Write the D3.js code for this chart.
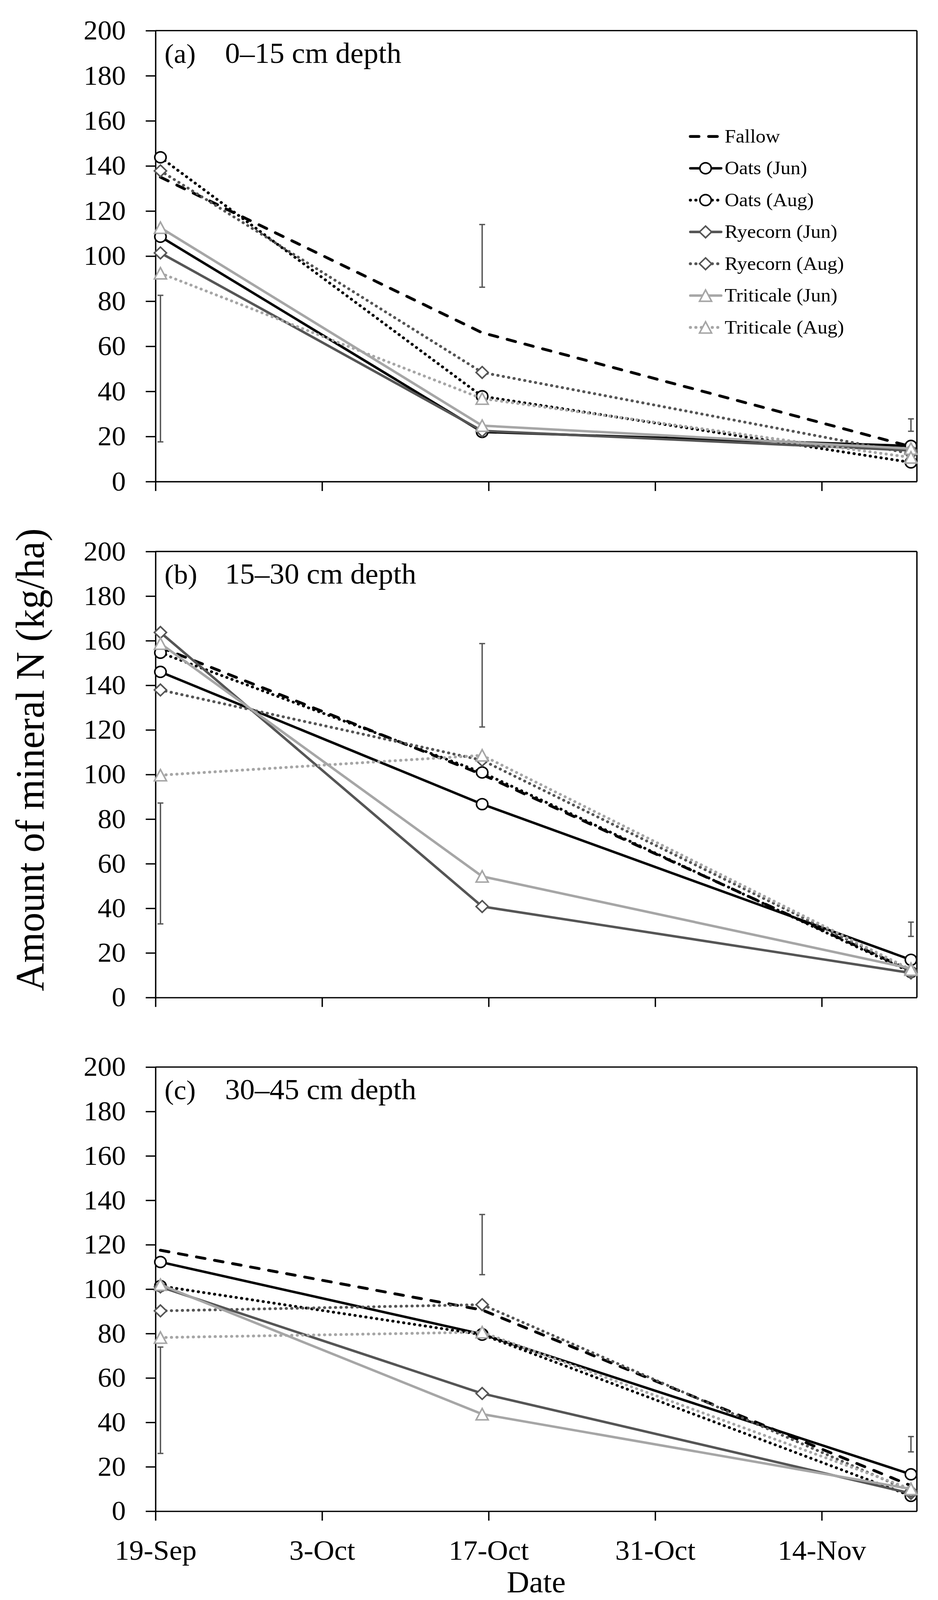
<!DOCTYPE html>
<html>
<head>
<meta charset="utf-8">
<script src="https://cdn.jsdelivr.net/npm/d3@7"></script>
<style>
  html, body { margin: 0; padding: 0; background: #fff; overflow: hidden; }
  svg { display: block; }
  text { font-family: "Liberation Serif", "Times New Roman", serif; fill: #000; }
</style>
</head>
<body>
<div id="chart"></div>
<script>
// sampling dates (UTC) and axis ticks
const sampleDates = [Date.UTC(2019, 8, 19, 10), Date.UTC(2019, 9, 16, 11), Date.UTC(2019, 10, 21, 12)];
const tickDates = [Date.UTC(2019, 8, 19), Date.UTC(2019, 9, 3), Date.UTC(2019, 9, 17), Date.UTC(2019, 9, 31), Date.UTC(2019, 10, 14)];
const yTicks = [0, 20, 40, 60, 80, 100, 120, 140, 160, 180, 200];

const seriesNames = ["Fallow", "Oats (Jun)", "Oats (Aug)", "Ryecorn (Jun)", "Ryecorn (Aug)", "Triticale (Jun)", "Triticale (Aug)"];
const panelLabels = ["(a)", "(b)", "(c)"];
const depthLabels = ["0\u201315 cm depth", "15\u201330 cm depth", "30\u201345 cm depth"];

// mineral N (kg/ha), one row per series, one value per sampling date
const valuesA = [
  [135, 66, 15.5],
  [108.6, 22, 15.8],
  [143.8, 37.8, 8.5],
  [101.4, 22.5, 13.8],
  [137.8, 48.4, 12.4],
  [112.6, 24.8, 14.6],
  [92.4, 36.8, 10.7]
];
const valuesB = [
  [157, 100, 12],
  [146, 86.7, 16.9],
  [154.6, 100.9, 11.4],
  [163.7, 40.8, 11],
  [137.9, 106.4, 12],
  [158.7, 54.3, 13],
  [99.7, 108.6, 12.5]
];
const valuesC = [
  [117.5, 90.6, 11.5],
  [112.2, 79.7, 16.6],
  [101.4, 79.5, 6.9],
  [101, 53, 8],
  [90.2, 93, 9],
  [102, 43.7, 10],
  [78.2, 80.6, 10]
];
// error bars [low, high] per sampling date
const errA = [[17.6, 82.6], [86.2, 114], [22.3, 27.8]];
const errB = [[33, 87.2], [121.3, 158.7], [27.4, 33.8]];
const errC = [[26, 73.9], [106.5, 133.6], [26.7, 33.6]];

// styles
const dark = "#555555", light = "#a6a6a6";
const dots = "0.5,13.5";
const seriesStyle = [
  {color: "#000", dash: "22,25", width: 7.5, marker: null},
  {color: "#000", dash: null, width: 6.5, marker: "circle"},
  {color: "#000", dash: dots, width: 7.5, marker: "circle"},
  {color: dark, dash: null, width: 6.5, marker: "diamond"},
  {color: dark, dash: dots, width: 7.5, marker: "diamond"},
  {color: light, dash: null, width: 6.5, marker: "triangle"},
  {color: light, dash: dots, width: 7.5, marker: "triangle"}
];

const W = 2401, H = 4233;
const left = 398, right = 2347;
const panels = [
  {top: 81, bottom: 1274, values: valuesA, err: errA},
  {top: 1459, bottom: 2639, values: valuesB, err: errB},
  {top: 2823, bottom: 3998, values: valuesC, err: errC}
];

const svg = d3.select("#chart").append("svg")
  .attr("viewBox", `0 0 ${W} ${H}`)
  .attr("preserveAspectRatio", "none")
  .style("width", "100vw")
  .style("height", "100vh");
svg.append("rect").attr("width", W).attr("height", H).attr("fill", "#fff");

const x = d3.scaleUtc()
  .domain([Date.UTC(2019, 8, 19), Date.UTC(2019, 10, 22)])
  .range([left, right]);

function drawMarker(g, type, style) {
  if (type === "circle") {
    g.append("circle").attr("r", 14.5)
      .attr("fill", "#fff").attr("stroke", style.color).attr("stroke-width", 4);
  } else if (type === "diamond") {
    g.append("path").attr("d", "M0,-15.5L15.5,0L0,15.5L-15.5,0Z")
      .attr("fill", "#fff").attr("stroke", style.color).attr("stroke-width", 4);
  } else if (type === "triangle") {
    g.append("path").attr("d", "M0,-15L15.5,15L-15.5,15Z")
      .attr("fill", "#fff").attr("stroke", style.color).attr("stroke-width", 4);
  }
}

panels.forEach((p, pi) => {
  const y = d3.scaleLinear().domain([0, 200]).range([p.bottom, p.top]);
  const g = svg.append("g");

  // frame (top and right)
  g.append("line").attr("x1", left).attr("x2", right).attr("y1", p.top).attr("y2", p.top)
    .attr("stroke", "#000").attr("stroke-width", 3.5);
  g.append("line").attr("x1", right).attr("x2", right).attr("y1", p.top).attr("y2", p.bottom)
    .attr("stroke", "#000").attr("stroke-width", 3.5);

  // y axis
  const yAxisG = g.append("g")
    .attr("transform", `translate(${left},0)`)
    .call(d3.axisLeft(y).tickValues(yTicks).tickSize(25).tickSizeOuter(0).tickPadding(51));
  yAxisG.selectAll("line, path").attr("stroke", "#000").attr("stroke-width", 3.5);
  yAxisG.selectAll("text").style("font-size", "72px").style("font-family", "Liberation Serif");

  // x axis
  const xAxisG = g.append("g")
    .attr("transform", `translate(0,${p.bottom})`)
    .call(d3.axisBottom(x).tickValues(tickDates).tickSize(25).tickSizeOuter(0).tickPadding(51)
      .tickFormat(pi === 2 ? d3.utcFormat("%-d-%b") : () => ""));
  xAxisG.selectAll("line, path").attr("stroke", "#000").attr("stroke-width", 3.5);
  xAxisG.selectAll("text").style("font-size", "74px").style("font-family", "Liberation Serif");

  // error bars
  const eb = g.append("g").selectAll("g").data(p.err).join("g");
  eb.append("line")
    .attr("x1", (d, i) => x(sampleDates[i])).attr("x2", (d, i) => x(sampleDates[i]))
    .attr("y1", d => y(d[0])).attr("y2", d => y(d[1]))
    .attr("stroke", dark).attr("stroke-width", 3.5);
  [0, 1].forEach(k => {
    eb.append("line")
      .attr("x1", (d, i) => x(sampleDates[i]) - 7.5).attr("x2", (d, i) => x(sampleDates[i]) + 7.5)
      .attr("y1", d => y(d[k])).attr("y2", d => y(d[k]))
      .attr("stroke", dark).attr("stroke-width", 3.5);
  });

  // series
  const line = d3.line().x((d, i) => x(sampleDates[i])).y(d => y(d));
  p.values.forEach((vals, si) => {
    const st = seriesStyle[si];
    g.append("path")
      .attr("d", line(vals))
      .attr("fill", "none")
      .attr("stroke", st.color)
      .attr("stroke-width", st.width)
      .attr("stroke-linecap", st.dash ? "round" : "butt")
      .attr("stroke-linejoin", "round")
      .attr("stroke-dasharray", st.dash);
    if (st.marker) {
      vals.forEach((v, i) => {
        const m = g.append("g").attr("transform", `translate(${x(sampleDates[i])},${y(v)})`);
        drawMarker(m, st.marker, st);
      });
    }
  });

  // panel label
  g.append("text").attr("x", 421).attr("y", p.top + 85)
    .style("font-size", "72px").text(panelLabels[pi]);
  g.append("text").attr("x", 576).attr("y", p.top + 85)
    .style("font-size", "76px").text(depthLabels[pi]);
});

// legend
const legend = svg.append("g");
seriesNames.forEach((name, i) => {
  const st = seriesStyle[i];
  const cy = 361 + i * 84.2;
  const row = legend.append("g");
  row.append("line")
    .attr("x1", 1767).attr("x2", 1846).attr("y1", cy).attr("y2", cy)
    .attr("stroke", st.color).attr("stroke-width", st.width)
    .attr("stroke-linecap", "round")
    .attr("stroke-dasharray", st.dash);
  if (st.marker) {
    const m = row.append("g").attr("transform", `translate(1806,${cy})`);
    drawMarker(m, st.marker, st);
  }
  row.append("text").attr("x", 1855).attr("y", cy + 16)
    .style("font-size", "51px").text(name);
});

// axis titles
svg.append("text")
  .attr("transform", "translate(112,2010) rotate(-90)")
  .attr("text-anchor", "middle")
  .style("font-size", "104px")
  .text("Amount of mineral N (kg/ha)");

svg.append("text")
  .attr("x", (left + right) / 2).attr("y", 4212)
  .attr("text-anchor", "middle")
  .style("font-size", "80px")
  .text("Date");
</script>
</body>
</html>
